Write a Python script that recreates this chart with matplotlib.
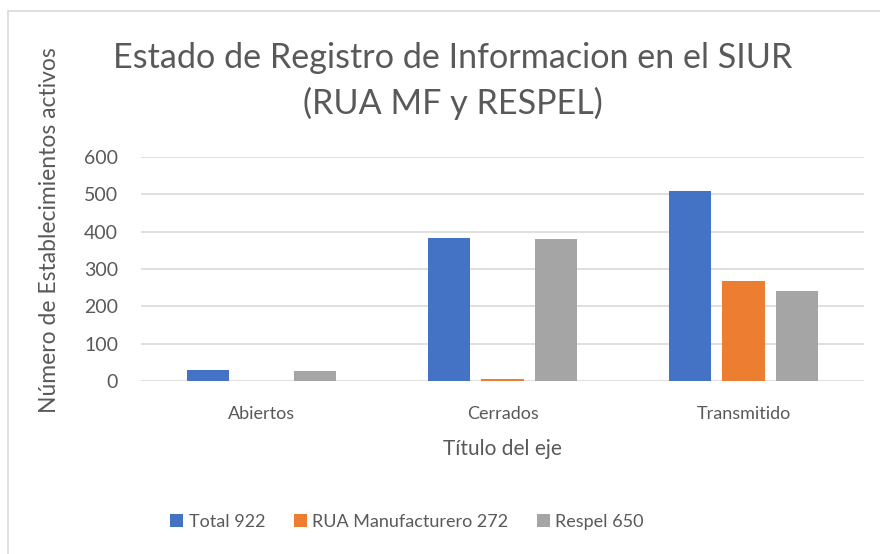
import numpy as np
import matplotlib.pyplot as plt
from matplotlib.patches import Rectangle

# ================= DATA =================
categories = ["Abiertos", "Cerrados", "Transmitido"]
series_names = ["Total 922", "RUA Manufacturero 272", "Respel 650"]
total = [30, 384, 508]
rua = [0, 5, 267]
respel = [28, 380, 242]
colors = ["#4472C4", "#ED7D31", "#A5A5A5"]
yticks = [0, 100, 200, 300, 400, 500, 600]

plt.rcParams['font.family'] = ['Lato', 'DejaVu Sans']
txt = "#595959"

# ================= FIGURE =================
fig = plt.figure(figsize=(8.8, 5.54), dpi=100)
ax = fig.add_axes([141/880, 1 - 381/554, (864 - 141)/880, (381 - 157)/554])

# chart border
fig.patches.append(Rectangle((8/880, -0.05), 1.2, 1 - 11/554 + 0.05,
                             transform=fig.transFigure, fill=False,
                             edgecolor="#D9D9D9", lw=1.2))

x = np.arange(len(categories))
width = 0.176
offset = 0.221

for k, (vals, name, c) in enumerate(zip([total, rua, respel], series_names, colors)):
    ax.bar(x + (k - 1) * offset, vals, width, color=c, label=name, zorder=3)

ax.set_xlim(-0.5, 2.5)
ax.set_ylim(0, 600)
ax.set_yticks(yticks)
ax.set_xticks(x)
ax.set_xticklabels(categories)
ax.grid(axis='y', color="#D9D9D9", lw=1.2, zorder=0)
for s in ax.spines.values():
    s.set_visible(False)
ax.tick_params(length=0, colors=txt, labelsize=13)
ax.tick_params(axis='y', labelsize=14, pad=16.5)
ax.tick_params(axis='x', pad=18)

ax.set_xlabel("Título del eje", fontsize=15, color=txt, labelpad=12)

fig.text(50/880, 1 - 230/554, "Número de Establecimientos activos",
         rotation=90, ha='center', va='center', fontsize=16.5, color=txt)

fig.text(453/880, 1 - 58/554, "Estado de Registro de Informacion en el SIUR",
         ha='center', va='center', fontsize=24.6, color=txt)
fig.text(453/880, 1 - 103/554, "(RUA MF y RESPEL)",
         ha='center', va='center', fontsize=24.6, color=txt)

fig.legend(loc='center', bbox_to_anchor=(407/880, 1 - 522/554), ncol=3,
           frameon=False, fontsize=13, handlelength=0.7, handleheight=0.7,
           handletextpad=0.3, columnspacing=1.6, labelcolor=txt)

plt.savefig("out.png", dpi=100)
